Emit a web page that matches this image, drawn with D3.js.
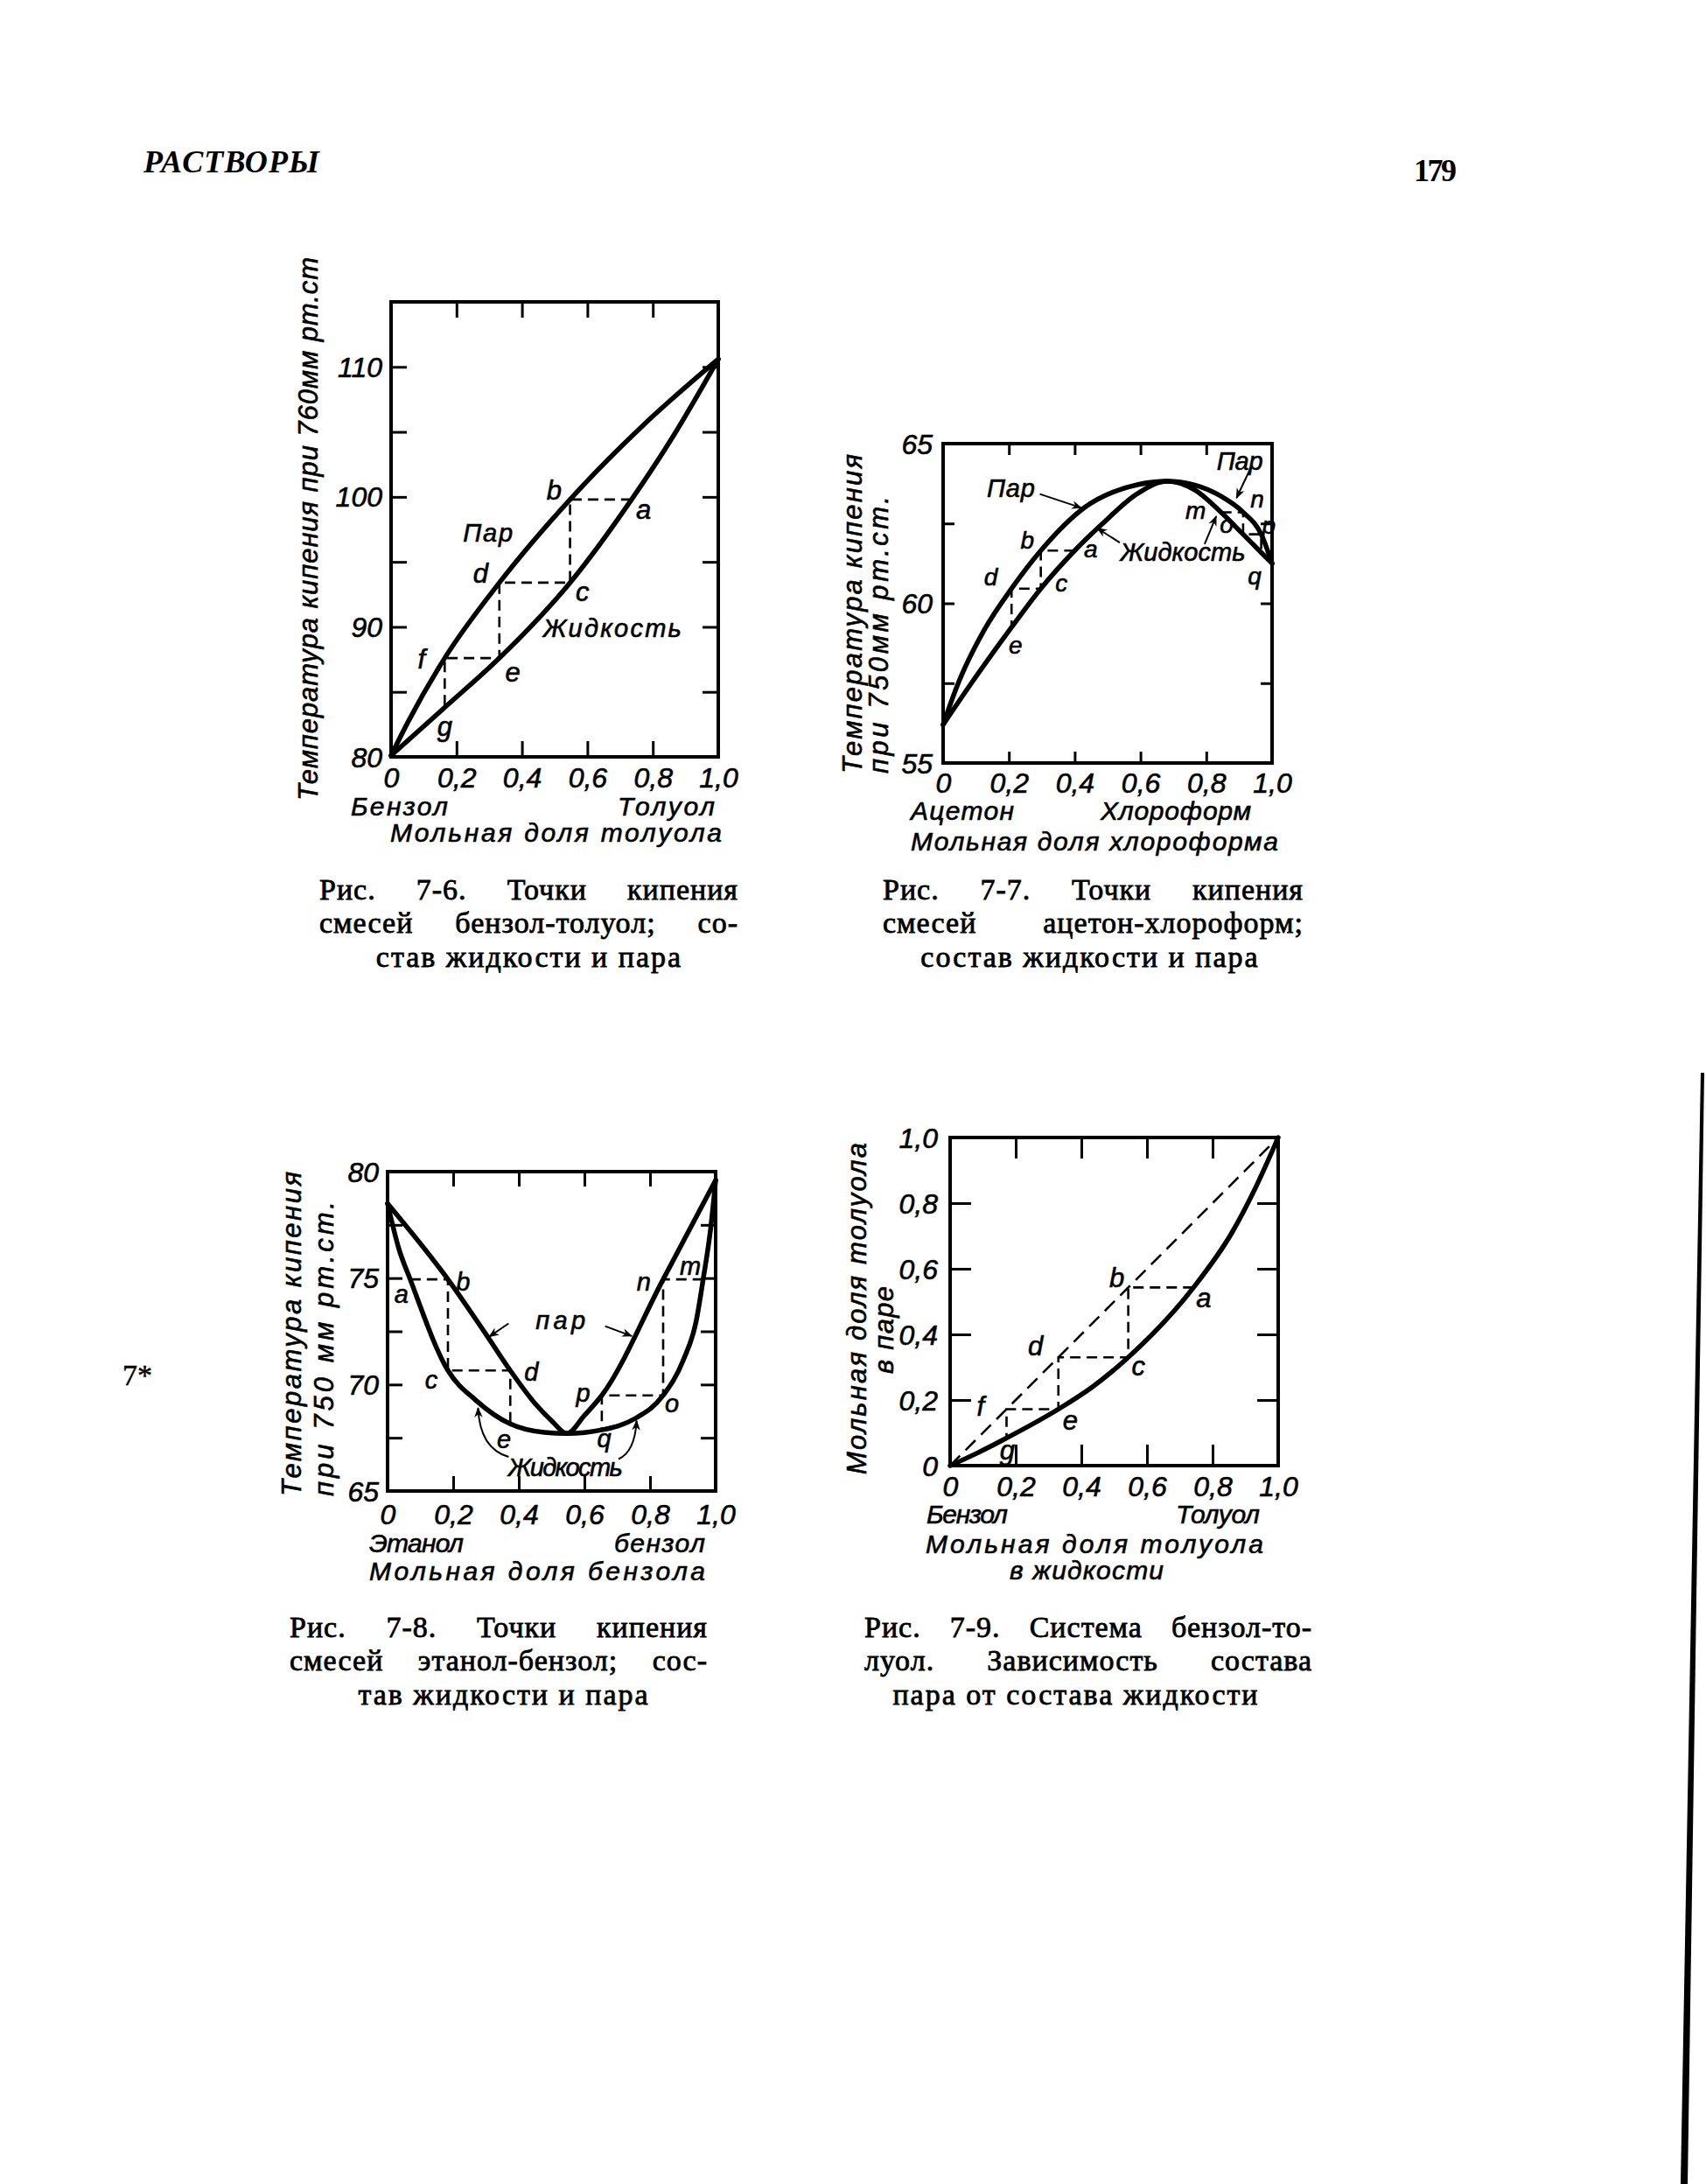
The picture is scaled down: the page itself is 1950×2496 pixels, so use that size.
<!DOCTYPE html>
<html><head><meta charset="utf-8">
<script src="https://cdn.jsdelivr.net/npm/d3@7"></script>
<style>html,body{margin:0;padding:0;background:#fff}svg{display:block}</style>
</head><body>
<svg id="page" width="1950" height="2496"></svg>
<script>
// ---------- DATA ----------
// shared x ticks (mole fraction)
const xTickMarks = [0.2, 0.4, 0.6, 0.8];
const xTickLabels = [0, 0.2, 0.4, 0.6, 0.8, 1.0];

// Fig. 7-6 benzene–toluene, T vs x(toluene)
const fig76YTicks = [85, 90, 95, 100, 105, 110];
const fig76YLabels = [80, 90, 100, 110];
const fig76Vapor = [[0,80.1],[0.05,82.6],[0.164,87.6],[0.331,93.4],[0.547,99.8],[0.77,105.5],[1,110.6]];
const fig76Liquid = [[0,80.1],[0.164,83.8],[0.331,87.6],[0.43,90.1],[0.547,93.4],[0.735,99.8],[0.863,104.7],[1,110.6]];
const fig76Steps = [[0.735,99.8],[0.547,99.8],[0.547,93.4],[0.331,93.4],[0.331,87.6],[0.164,87.6],[0.164,83.8]];
const fig76Letters = [["b",0.498,100.5],["a",0.772,99.0],["d",0.274,94.1],["c",0.585,92.7],["f",0.093,87.5],["e",0.372,86.5],["g",0.164,82.3]];
const fig76Words = [["Пар",0.296,97.2,57],["Жидкость",0.676,89.9,158]];

// Fig. 7-7 acetone–chloroform
const fig77YTicks = [57.5, 60, 62.5];
const fig77YLabels = [55, 60, 65];
const fig77Vapor = [[0,56.2],[0.046,57.5],[0.127,59.2],[0.208,60.46],[0.297,61.65],[0.43,63.0],[0.593,63.72],[0.68,63.82],[0.765,63.7],[0.845,63.35],[0.912,62.85],[0.967,62.16],[1,61.25]];
const fig77Liquid = [[0,56.2],[0.086,57.5],[0.208,59.25],[0.297,60.46],[0.40,61.65],[0.48,62.45],[0.593,63.45],[0.68,63.82],[0.765,63.55],[0.845,62.85],[0.912,62.16],[0.967,61.59],[1,61.25]];
const fig77StepsLeft = [[0.40,61.65],[0.297,61.65],[0.297,60.46],[0.208,60.46],[0.208,59.25]];
const fig77StepsRight = [[0.845,62.85],[0.912,62.85],[0.912,62.16],[0.967,62.16],[0.967,61.59]];
const fig77Letters = [["b",0.256,61.98],["a",0.449,61.69],["d",0.145,60.82],["c",0.36,60.63],["e",0.22,58.69],["m",0.768,62.9],["n",0.955,63.25],["p",0.99,62.45],["o",0.862,62.47],["q",0.947,60.86]];
const fig77Words = [["Пар",0.206,63.59,55],["Жидкость",0.729,61.6,143],["Пар",0.902,64.46,53]];
const fig77Arrows = [[0.294,63.42,0.42,62.99],[0.537,61.9,0.469,62.35],[0.937,64.28,0.892,63.3],[0.795,61.85,0.83,62.72]];

// Fig. 7-8 ethanol–benzene
const fig78YTicks = [67.5, 70, 72.5, 75, 77.5];
const fig78YLabels = [65, 70, 75, 80];
const fig78Vapor = [[0,78.5],[0.184,74.94],[0.30,72.36],[0.374,70.66],[0.45,69.1],[0.50,68.3],[0.547,67.7],[0.60,68.55],[0.653,69.49],[0.84,74.94],[1,79.6]];
const fig78Liquid = [[0,78.5],[0.034,76.4],[0.069,74.94],[0.184,70.66],[0.27,69.25],[0.374,68.15],[0.478,67.75],[0.547,67.7],[0.653,67.87],[0.754,68.4],[0.84,69.49],[0.901,71.13],[0.941,73.0],[0.962,74.94],[0.985,77.36],[1,79.6]];
const fig78StepsLeft = [[0.069,74.94],[0.184,74.94],[0.184,70.66],[0.374,70.66],[0.374,68.15]];
const fig78StepsRight = [[0.962,74.94],[0.84,74.94],[0.84,69.49],[0.653,69.49],[0.653,67.87]];
const fig78Letters = [["a",0.042,74.25],["b",0.23,74.81],["c",0.133,70.23],["d",0.438,70.57],["p",0.596,69.62],["o",0.867,69.09],["e",0.355,67.42],["q",0.66,67.45],["n",0.781,74.81],["m",0.923,75.57]];
const fig78Words = [["пар",0.527,73.02,57],["Жидкость",0.542,66.12,131]];
const fig78Arrows = [[0.369,72.87,0.31,72.25],[0.663,72.74,0.744,72.28]];
const fig78CurvedArrows = [[0.369,66.6,0.281,67.0,0.276,68.9],[0.704,66.5,0.754,66.85,0.759,68.3]];

// Fig. 7-9 benzene–toluene, y vs x
const fig79YTicks = [0.2, 0.4, 0.6, 0.8];
const fig79YLabels = [0, 0.2, 0.4, 0.6, 0.8, 1.0];
const fig79Curve = [[0,0],[0.08,0.037],[0.172,0.084],[0.33,0.172],[0.434,0.24],[0.543,0.33],[0.742,0.543],[0.859,0.71],[0.93,0.845],[1,1]];
const fig79Diagonal = [[0,0],[1,1]];
const fig79Steps = [[0.742,0.543],[0.543,0.543],[0.543,0.33],[0.33,0.33],[0.33,0.172],[0.172,0.172],[0.172,0.084]];
const fig79Letters = [["b",0.508,0.571],["a",0.773,0.51],["d",0.26,0.363],["c",0.574,0.302],["f",0.093,0.18],["e",0.366,0.138],["g",0.174,0.046]];

// Text
const fig76Captions = ["Рис. 7-6. Точки кипения", "смесей бензол-толуол; со-", "став жидкости и пара"];
const fig77Captions = ["Рис. 7-7. Точки кипения", "смесей ацетон-хлороформ;", "состав жидкости и пара"];
const fig78Captions = ["Рис. 7-8. Точки кипения", "смесей этанол-бензол; сос-", "тав жидкости и пара"];
const fig79Captions = ["Рис. 7-9. Система бензол-то-", "луол. Зависимость состава", "пара от состава жидкости"];

// ---------- DRAWING ----------
const svg = d3.select('#page');
svg.append('rect').attr('width',1950).attr('height',2496).attr('fill','#fff');
const defs = svg.append('defs');
defs.append('marker').attr('id','ah').attr('viewBox','0 0 10 10').attr('refX',9).attr('refY',5)
  .attr('markerWidth',16).attr('markerHeight',12).attr('markerUnits','userSpaceOnUse').attr('orient','auto')
  .append('path').attr('d','M0,1 L10,5 L0,9 L3,5 z').attr('fill','#000');

const SANS = '"Liberation Sans", Arial, sans-serif';
const SERIF = '"Liberation Serif", "Times New Roman", serif';

function txt(parent, str, x, y, o) {
  o = o || {};
  let tr = `translate(${x},${y})`;
  if (o.rotate) tr += ` rotate(${o.rotate})`;
  const t = parent.append('text').attr('transform', tr)
    .attr('text-anchor', o.anchor || 'middle')
    .attr('dominant-baseline', 'central')
    .style('font-family', o.family || SANS)
    .style('font-style', o.italic === false ? 'normal' : 'italic')
    .style('font-weight', o.weight || 'normal')
    .style('font-size', (o.size || 30) + 'px')
    .attr('fill', '#000')
    .text(str);
  const sw = o.stroke === undefined ? 0.6 : o.stroke;
  if (sw) t.attr('stroke','#000').attr('stroke-width',sw);
  if (o.width) t.attr('textLength', o.width).attr('lengthAdjust', 'spacing');
  return t;
}

function fmtComma(d){ return d === 0 ? '0' : d3.format('.1f')(d).replace('.', ','); }

function panel(c) {
  const x = d3.scaleLinear().domain([0,1]).range([c.left, c.right]);
  const y = d3.scaleLinear().domain(c.yDomain).range([c.bottom, c.top]);
  const g = svg.append('g');
  const tl = c.tickLen;
  const styleTicks = sel => { sel.select('.domain').remove(); sel.selectAll('line').attr('stroke','#000').attr('stroke-width',3); };
  g.append('g').attr('transform',`translate(${c.left},0)`).call(d3.axisLeft(y).tickValues(c.yTicks).tickSize(-tl).tickFormat('')).call(styleTicks);
  g.append('g').attr('transform',`translate(${c.right},0)`).call(d3.axisRight(y).tickValues(c.yTicks).tickSize(-tl).tickFormat('')).call(styleTicks);
  g.append('g').attr('transform',`translate(0,${c.top})`).call(d3.axisTop(x).tickValues(xTickMarks).tickSize(-tl).tickFormat('')).call(styleTicks);
  g.append('g').attr('transform',`translate(0,${c.bottom})`).call(d3.axisBottom(x).tickValues(xTickMarks).tickSize(-tl).tickFormat('')).call(styleTicks);

  // tick labels
  const yl = g.append('g').attr('transform',`translate(${c.left - c.yLabelGap},0)`)
    .call(d3.axisLeft(y).tickValues(c.yLabels).tickSize(0).tickPadding(0).tickFormat(c.yFmt));
  yl.select('.domain').remove();
  yl.selectAll('text').attr('x',0).attr('dy',null).attr('dominant-baseline','central')
    .style('font-family',SANS).style('font-style','italic').style('font-size','32px')
    .attr('fill','#000').attr('stroke','#000').attr('stroke-width',0.6);
  const xl = g.append('g').attr('transform',`translate(0,${c.xLabelY})`)
    .call(d3.axisBottom(x).tickValues(xTickLabels).tickSize(0).tickPadding(0).tickFormat(fmtComma));
  xl.select('.domain').remove();
  xl.selectAll('text').attr('y',0).attr('dy',null).attr('dominant-baseline','central')
    .style('font-family',SANS).style('font-style','italic').style('font-size','32px')
    .attr('fill','#000').attr('stroke','#000').attr('stroke-width',0.6);

  // box
  g.append('rect').attr('x',c.left).attr('y',c.top).attr('width',c.right-c.left).attr('height',c.bottom-c.top)
    .attr('fill','none').attr('stroke','#000').attr('stroke-width',4);

  const line = d3.line().x(d => x(d[0])).y(d => y(d[1])).curve(d3.curveMonotoneX);
  const lin = d3.line().x(d => x(d[0])).y(d => y(d[1]));
  (c.dashedLines || []).forEach(s => g.append('path').attr('d', lin(s)).attr('fill','none').attr('stroke','#000')
    .attr('stroke-width',2.6).attr('stroke-dasharray', '16,9'));
  (c.steps || []).forEach(s => g.append('path').attr('d', lin(s)).attr('fill','none').attr('stroke','#000')
    .attr('stroke-width',2.6).attr('stroke-dasharray','12,7'));
  c.curves.forEach(s => g.append('path').attr('d', line(s)).attr('fill','none').attr('stroke','#000')
    .attr('stroke-width',c.curveWidth || 5.5).attr('stroke-linejoin','round').attr('stroke-linecap','round'));

  (c.arrows || []).forEach(a => g.append('path').attr('d', `M${x(a[0])},${y(a[1])} L${x(a[2])},${y(a[3])}`)
    .attr('stroke','#000').attr('stroke-width',2).attr('fill','none').attr('marker-end','url(#ah)'));
  (c.curvedArrows || []).forEach(a => g.append('path')
    .attr('d', `M${x(a[0])},${y(a[1])} Q${x(a[2])},${y(a[3])} ${x(a[4])},${y(a[5])}`)
    .attr('stroke','#000').attr('stroke-width',2).attr('fill','none').attr('marker-end','url(#ah)'));

  (c.letters || []).forEach(l => txt(g, l[0], x(l[1]), y(l[2]), {size: c.letterSize || 31}));
  (c.words || []).forEach(w => txt(g, w[0], x(w[1]) - w[3]/2, y(w[2]), {size: 29, anchor: 'start', width: w[3]}));

  // axis titles
  (c.rowTexts || []).forEach(r => txt(g, r[0], r[1], r[3], {size: 30, anchor: 'start', width: r[2] - r[1]}));
  (c.yTitles || []).forEach(r => txt(g, r[0], r[1], r[2], {size: 31, anchor: 'start', rotate: -90, width: r[3]}));
}

function caption(lines, left, right, yFirst, centerX) {
  const g = svg.append('g');
  lines.forEach((ln, i) => {
    const yy = yFirst + i * 38.5;
    if (i < 2) {
      const words = ln.split(' ');
      const nodes = words.map(w => txt(g, w, 0, yy, {family: SERIF, italic: false, size: 34, anchor: 'start', stroke: 0.8}).style('letter-spacing','1px'));
      const widths = nodes.map(n => n.node().getComputedTextLength());
      const total = d3.sum(widths);
      const gap = (right - left - total) / (words.length - 1);
      let cx = left;
      nodes.forEach((n, k) => { n.attr('transform', `translate(${cx},${yy})`); cx += widths[k] + gap; });
    } else {
      txt(g, ln, centerX, yy, {family: SERIF, italic: false, size: 34, stroke: 0.8}).style('letter-spacing','2px');
    }
  });
}

// Fig 7-6
panel({left:447, right:821, top:345, bottom:865, yDomain:[80,115], yTicks:fig76YTicks, yLabels:fig76YLabels,
  yFmt:d3.format('d'), tickLen:18, yLabelGap:10, xLabelY:889,
  curves:[fig76Vapor, fig76Liquid], steps:[fig76Steps], letters:fig76Letters, words:fig76Words,
  rowTexts:[["Бензол",401,512,921],["Толуол",706,817,921],["Мольная доля толуола",446,825,951]],
  yTitles:[["Температура кипения при 760мм рт.ст",352,915,621]]});

// Fig 7-7
panel({left:1078, right:1454, top:507, bottom:872, yDomain:[55,65], yTicks:fig77YTicks, yLabels:fig77YLabels,
  yFmt:d3.format('d'), tickLen:13, yLabelGap:12, xLabelY:895, curveWidth:5.5, letterSize:28,
  curves:[fig77Vapor, fig77Liquid], steps:[fig77StepsLeft, fig77StepsRight], letters:fig77Letters, words:fig77Words,
  arrows:fig77Arrows,
  rowTexts:[["Ацетон",1041,1159,926],["Хлороформ",1258,1430,926],["Мольная доля хлороформа",1041,1461,961]],
  yTitles:[["Температура кипения",974,884,365],["при 750мм рт.ст.",1004,884,317]]});

// Fig 7-8
panel({left:443, right:818, top:1339, bottom:1704, yDomain:[65,80], yTicks:fig78YTicks, yLabels:fig78YLabels,
  yFmt:d3.format('d'), tickLen:17, yLabelGap:10, xLabelY:1731, letterSize:29,
  curves:[fig78Vapor, fig78Liquid], steps:[fig78StepsLeft, fig78StepsRight], letters:fig78Letters, words:fig78Words,
  arrows:fig78Arrows, curvedArrows:fig78CurvedArrows,
  rowTexts:[["Этанол",422,530,1763],["бензол",702,806,1763],["Мольная доля бензола",422,806,1795]],
  yTitles:[["Температура кипения",333,1710,371],["при 750 мм рт.ст.",370,1710,337]]});

// Fig 7-9
panel({left:1086, right:1461, top:1300, bottom:1675, yDomain:[0,1], yTicks:fig79YTicks, yLabels:fig79YLabels,
  yFmt:fmtComma, tickLen:24, yLabelGap:14, xLabelY:1699,
  curves:[fig79Curve], dashedLines:[fig79Diagonal], steps:[fig79Steps], letters:fig79Letters,
  rowTexts:[["Бензол",1059,1152,1730],["Толуол",1344,1440,1730],["Мольная доля толуола",1058,1444,1764],["в жидкости",1154,1330,1794]],
  yTitles:[["Мольная доля толуола",979,1685,379],["в паре",1010,1570,100]]});

caption(fig76Captions, 365, 844, 1016, 605);
caption(fig77Captions, 1009, 1490, 1016, 1246);
caption(fig78Captions, 331, 809, 1859, 576);
caption(fig79Captions, 988, 1500, 1859, 1230);

// page header / footer
txt(svg, "РАСТВОРЫ", 164, 185, {family: SERIF, weight: 'bold', size: 36, anchor: 'start', width: 201, stroke: 0});
txt(svg, "179", 1616, 195, {family: SERIF, weight: 'bold', italic: false, size: 36, anchor: 'start', width: 49, stroke: 0});
txt(svg, "7*", 140, 1571, {family: SERIF, italic: false, size: 34, anchor: 'start', stroke: 0.5});

// scan edge line at right margin
svg.append('path').attr('d','M1944,1226 L1948,1226 L1929,2496 L1921,2496 Z').attr('fill','#000');
</script>
</body></html>
